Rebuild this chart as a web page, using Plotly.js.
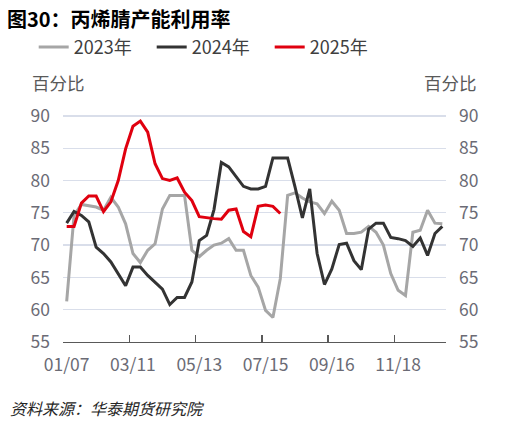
<!DOCTYPE html>
<html>
<head>
<meta charset="utf-8">
<script src="https://cdn.plot.ly/plotly-3.0.1.min.js"></script>
<style>
    html, body { margin: 0; padding: 0; background: #ffffff; }
    #chart { width: 519px; height: 426px; }
</style>
</head>
<body>
<div id="chart"></div>
<script>
// weekly index, one point per week starting 01/07
const tickLabels = ['01/07', '03/11', '05/13', '07/15', '09/16', '11/18'];
const tickWeeks = [0, 9, 18, 27, 36, 45];
const boundaryWeeks = [-0.5, 8.5, 17.5, 26.5, 35.5, 44.5, 51.5];

const rate2023 = [
    61.3, 74.6, 76.3, 76.1, 75.9, 75.4, 77.4, 75.9, 73.3, 68.7,
    67.3, 69.2, 70.2, 75.6, 77.7, 77.7, 77.7, 69.2, 68.2, 69.2,
    70.0, 70.3, 71.0, 69.2, 69.2, 65.3, 63.5, 59.9, 58.8, 64.8,
    77.7, 78.1, 77.3, 76.7, 76.4, 74.9, 76.8, 75.4, 71.8, 71.8,
    72.0, 72.9, 72.0, 70.0, 65.6, 63.0, 62.2, 72.0, 72.3, 75.4,
    73.4, 73.3,
];
const rate2024 = [
    73.4, 75.2, 74.6, 73.6, 69.7, 68.7, 67.4, 65.6, 63.7, 66.6,
    66.6, 65.3, 64.3, 63.2, 60.8, 61.9, 61.9, 64.3, 70.7, 71.5,
    75.5, 82.8, 82.1, 80.6, 79.1, 78.7, 78.7, 79.1, 83.5, 83.5,
    83.5, 79.0, 74.2, 78.7, 68.7, 63.9, 66.3, 70.1, 70.3, 67.6,
    66.2, 72.5, 73.4, 73.4, 71.2, 71.0, 70.7, 69.8, 71.1, 68.4,
    71.8, 72.9,
];
const rate2025 = [
    72.9, 72.9, 76.5, 77.6, 77.6, 75.2, 76.7, 80.0, 84.9, 88.4,
    89.2, 87.5, 82.6, 80.3, 80.0, 80.4, 78.2, 76.9, 74.4, 74.2,
    74.1, 74.0, 75.4, 75.6, 72.1, 71.3, 76.0, 76.2, 76.0, 74.9,
];

const FONT = '"Noto Sans CJK SC", "Noto Sans", sans-serif';
const weeks = arr => arr.map((v, i) => i);

const lineTrace = (values, name, color) => ({
    x: weeks(values),
    y: values,
    name,
    type: 'scatter',
    mode: 'lines',
    line: { color, width: 3 },
    hoverinfo: 'skip',
});

const data = [
    lineTrace(rate2023, '2023年', '#a6a6a6'),
    lineTrace(rate2024, '2024年', '#333333'),
    lineTrace(rate2025, '2025年', '#e0000f'),
    // empty trace so the right axis and the tick-mark axis get drawn
    {
        x: [], y: [], xaxis: 'x2', yaxis: 'y2', type: 'scatter', showlegend: false,
    },
];

const yRange = [55, 90.3];
const xRange = [-0.5, 51.5];
const yTicks = [55, 60, 65, 70, 75, 80, 85, 90];
const tickFont = { family: FONT, size: 17.5, color: '#6b6b75' };

const layout = {
    width: 519,
    height: 426,
    margin: { l: 63.3, r: 72.5, t: 113.7, b: 84 },
    paper_bgcolor: '#ffffff',
    plot_bgcolor: '#ffffff',
    font: { family: FONT, color: '#595959' },
    title: {
        text: '<b>图30：丙烯腈产能利用率</b>',
        font: { family: FONT, size: 20, color: '#000000' },
        xref: 'container',
        yref: 'container',
        x: 7 / 519,
        xanchor: 'left',
        y: 1 - 20 / 426,
        yanchor: 'middle',
    },
    showlegend: true,
    legend: {
        orientation: 'h',
        x: -0.0765,
        xanchor: 'left',
        y: 1.292,
        yanchor: 'middle',
        font: { family: FONT, size: 18, color: '#404040' },
        entrywidth: 73,
        entrywidthmode: 'pixels',
        traceorder: 'normal',
    },
    xaxis: {
        range: xRange,
        tickvals: tickWeeks,
        ticktext: tickLabels,
        ticks: '',
        showgrid: false,
        zeroline: false,
        showline: true,
        linecolor: '#595959',
        linewidth: 1.3,
        tickfont: tickFont,
        ticklabelstandoff: 7,
    },
    xaxis2: {
        overlaying: 'x',
        range: xRange,
        tickvals: boundaryWeeks,
        ticks: 'inside',
        ticklen: 7,
        tickwidth: 1.3,
        tickcolor: '#595959',
        showticklabels: false,
        showgrid: false,
        zeroline: false,
        showline: false,
    },
    yaxis: {
        range: yRange,
        tickvals: yTicks,
        ticks: '',
        gridcolor: '#d9deea',
        gridwidth: 1.3,
        zeroline: false,
        showline: false,
        tickfont: tickFont,
        ticklabelstandoff: 12,
    },
    yaxis2: {
        overlaying: 'y',
        side: 'right',
        range: yRange,
        tickvals: yTicks,
        ticks: '',
        showgrid: false,
        zeroline: false,
        showline: false,
        tickfont: tickFont,
        ticklabelstandoff: 12,
    },
    annotations: [
        {
            text: '百分比',
            xref: 'paper',
            yref: 'paper',
            x: (58.5 - 63.3) / 383.2,
            y: (342 - 82) / 228.3,
            xanchor: 'center',
            yanchor: 'middle',
            showarrow: false,
            font: { family: FONT, size: 17.5, color: '#595959' },
        },
        {
            text: '百分比',
            xref: 'paper',
            yref: 'paper',
            x: (451.5 - 63.3) / 383.2,
            y: (342 - 82) / 228.3,
            xanchor: 'center',
            yanchor: 'middle',
            showarrow: false,
            font: { family: FONT, size: 17.5, color: '#595959' },
        },
        {
            text: '<i>资料来源：华泰期货研究院</i>',
            xref: 'paper',
            yref: 'paper',
            x: (8 - 63.3) / 383.2,
            y: (342 - 408) / 228.3,
            xanchor: 'left',
            yanchor: 'middle',
            showarrow: false,
            font: { family: FONT, size: 16, color: '#262626' },
        },
    ],
};

try {
    Plotly.newPlot('chart', data, layout, { displayModeBar: false, staticPlot: true });
} catch (e) {
    console.log(e);
}
</script>
</body>
</html>
